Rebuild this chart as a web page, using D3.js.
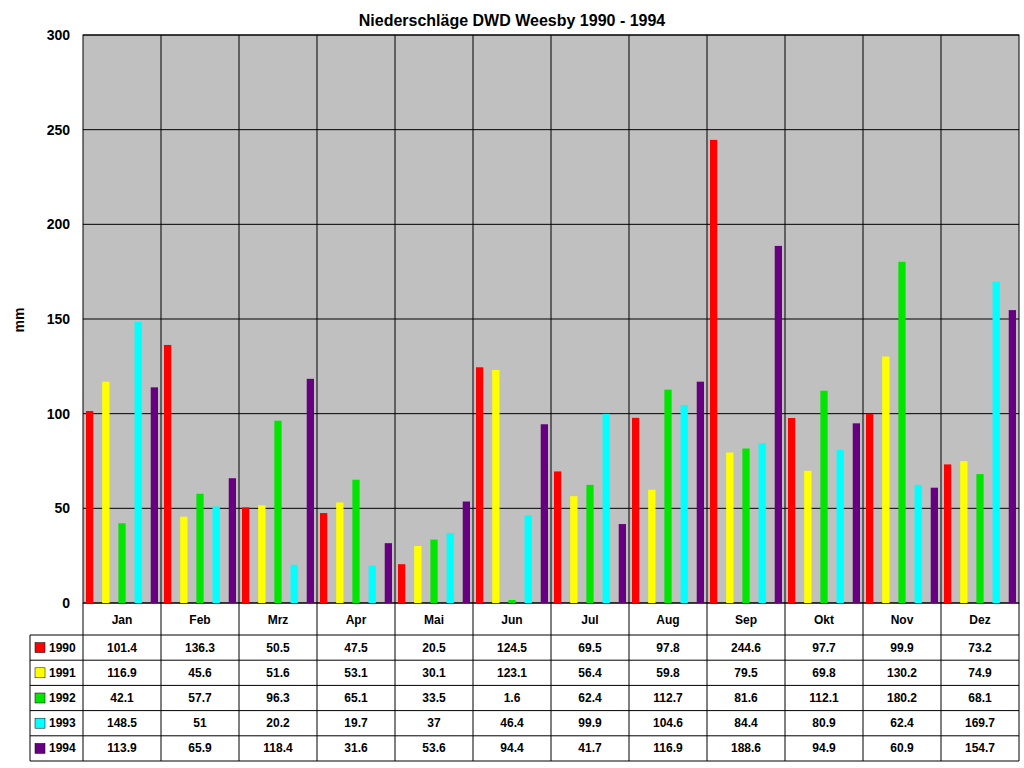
<!DOCTYPE html>
<html><head><meta charset="utf-8">
<script src="https://cdn.jsdelivr.net/npm/d3@7"></script>
<style>body{margin:0;background:#fff}svg{font-family:Arial,"Liberation Sans",sans-serif;font-weight:bold}</style>
</head><body><svg id="c" width="1024" height="768"></svg>
<script>
const months = ['Jan','Feb','Mrz','Apr','Mai','Jun','Jul','Aug','Sep','Okt','Nov','Dez'];
const years = ['1990','1991','1992','1993','1994'];
const colors = ['#ff0000','#ffff00','#00e600','#00ffff','#660080'];
const v1990 = [101.4,136.3,50.5,47.5,20.5,124.5,69.5,97.8,244.6,97.7,99.9,73.2];
const v1991 = [116.9,45.6,51.6,53.1,30.1,123.1,56.4,59.8,79.5,69.8,130.2,74.9];
const v1992 = [42.1,57.7,96.3,65.1,33.5,1.6,62.4,112.7,81.6,112.1,180.2,68.1];
const v1993 = [148.5,51,20.2,19.7,37,46.4,99.9,104.6,84.4,80.9,62.4,169.7];
const v1994 = [113.9,65.9,118.4,31.6,53.6,94.4,41.7,116.9,188.6,94.9,60.9,154.7];
const series = [v1990,v1991,v1992,v1993,v1994];
const yTicks = [0,50,100,150,200,250,300];

const svg = d3.select('#c');
const L = 83, R = 1019, T = 35, B = 603;
const x = d3.scaleBand().domain(months).range([L, R]);
const xi = d3.scaleBand().domain(years).range([3, x.bandwidth() - 3]).paddingInner(0.55).paddingOuter(0);
const y = d3.scaleLinear().domain([0, 300]).range([B, T]);

svg.append('rect').attr('x', L).attr('y', T).attr('width', R - L).attr('height', B - T).attr('fill', '#c0c0c0');

// grid
svg.append('g').selectAll('line').data(yTicks).join('line')
  .attr('x1', L).attr('x2', R).attr('y1', d => y(d)).attr('y2', d => y(d)).attr('stroke', '#000');
svg.append('g').selectAll('line').data(months.slice(1)).join('line')
  .attr('x1', d => x(d)).attr('x2', d => x(d)).attr('y1', T).attr('y2', B).attr('stroke', '#000');
svg.append('rect').attr('x', L).attr('y', T).attr('width', R - L).attr('height', B - T)
  .attr('fill', 'none').attr('stroke', '#000');

// y axis
svg.append('g').selectAll('text').data(yTicks).join('text')
  .attr('x', 70).attr('y', d => y(d) + 5).attr('text-anchor', 'end').attr('font-size', 14).text(d => d);
svg.append('text').attr('transform', 'translate(24,320) rotate(-90)').attr('text-anchor', 'middle')
  .attr('font-size', 14).text('mm');
svg.append('text').attr('x', 512).attr('y', 26).attr('text-anchor', 'middle').attr('font-size', 16)
  .text('Niederschläge DWD Weesby 1990 - 1994');

// bars
series.forEach((vals, si) => {
  svg.append('g').selectAll('rect').data(vals).join('rect')
    .attr('x', (d, i) => x(months[i]) + xi(years[si]))
    .attr('width', xi.bandwidth())
    .attr('y', d => y(d)).attr('height', d => B - y(d))
    .attr('fill', colors[si]);
});

// table
const rowH = 25.2, hdrB = 635, tblL = 30;
const tbl = svg.append('g').attr('font-size', 12);
tbl.selectAll('text.m').data(months).join('text').attr('class', 'm')
  .attr('x', d => x(d) + x.bandwidth() / 2).attr('y', 624).attr('text-anchor', 'middle').text(d => d);
months.forEach(m => tbl.append('line').attr('x1', x(m)).attr('x2', x(m)).attr('y1', B).attr('y2', hdrB + rowH * 5).attr('stroke', '#000'));
tbl.append('line').attr('x1', R).attr('x2', R).attr('y1', B).attr('y2', hdrB + rowH * 5).attr('stroke', '#000');
tbl.append('line').attr('x1', tblL).attr('x2', tblL).attr('y1', hdrB).attr('y2', hdrB + rowH * 5).attr('stroke', '#000');
d3.range(6).forEach(r => tbl.append('line').attr('x1', tblL).attr('x2', R)
  .attr('y1', hdrB + r * rowH).attr('y2', hdrB + r * rowH).attr('stroke', '#000'));
series.forEach((vals, si) => {
  const yy = hdrB + si * rowH + rowH / 2;
  tbl.append('rect').attr('x', 35).attr('y', yy - 5).attr('width', 10).attr('height', 10)
    .attr('fill', colors[si]).attr('stroke', '#000').attr('stroke-width', 0.5);
  tbl.append('text').attr('x', 49).attr('y', yy + 4).text(years[si]);
  tbl.append('g').selectAll('text').data(vals).join('text')
    .attr('x', (d, i) => x(months[i]) + x.bandwidth() / 2).attr('y', yy + 4)
    .attr('text-anchor', 'middle').text(d => d);
});
</script></body></html>
